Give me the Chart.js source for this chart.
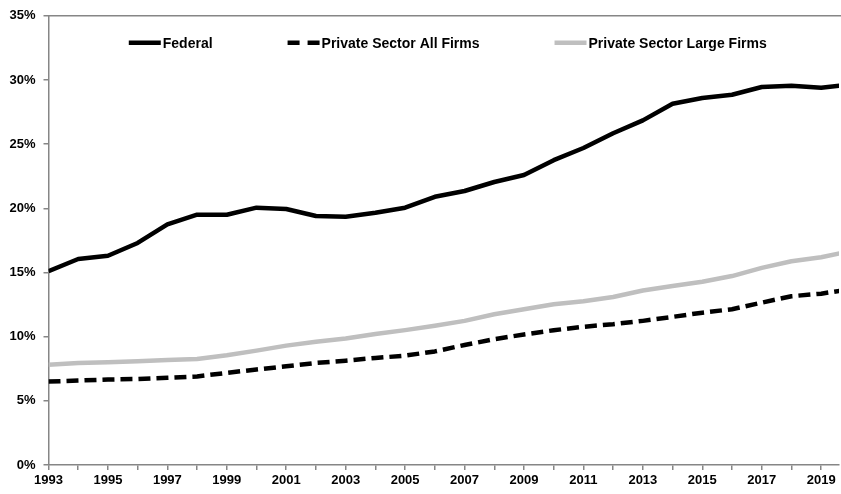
<!DOCTYPE html>
<html>
<head>
<meta charset="utf-8">
<script src="https://cdn.jsdelivr.net/npm/chart.js@4.4.1/dist/chart.umd.min.js"></script>
<style>
html, body { margin: 0; padding: 0; background: #fff; }
#wrap { width: 841px; height: 494px; }
</style>
</head>
<body>
<div id="wrap"><canvas id="chart"></canvas></div>
<script>
// share of workforce, percent
var years = [1993, 1994, 1995, 1996, 1997, 1998, 1999, 2000, 2001, 2002, 2003, 2004, 2005, 2006,
             2007, 2008, 2009, 2010, 2011, 2012, 2013, 2014, 2015, 2016, 2017, 2018, 2019, 2020];
var federal = [15.1, 16.05, 16.3, 17.3, 18.75, 19.5, 19.5, 20.05, 19.95, 19.4, 19.35, 19.65, 20.05, 20.9,
               21.35, 22.05, 22.6, 23.75, 24.7, 25.85, 26.85, 28.15, 28.6, 28.85, 29.45, 29.55, 29.4, 29.65];
var allFirms = [6.5, 6.58, 6.66, 6.7, 6.8, 6.9, 7.18, 7.44, 7.69, 7.95, 8.13, 8.34, 8.52, 8.85,
                9.35, 9.8, 10.17, 10.5, 10.77, 10.97, 11.23, 11.54, 11.87, 12.14, 12.65, 13.15, 13.35, 13.7];
var largeFirms = [7.82, 7.95, 8.0, 8.08, 8.19, 8.26, 8.55, 8.91, 9.3, 9.61, 9.86, 10.2, 10.51, 10.85,
                  11.23, 11.75, 12.14, 12.52, 12.76, 13.09, 13.6, 13.94, 14.28, 14.72, 15.36, 15.88, 16.19, 16.68];
var seriesNames = ['Federal', 'Private Sector All Firms', 'Private Sector Large Firms'];
var tickYears = years.slice(0, 27);   // 1993..2019, a mark every year, label every other

var axisColor = '#868686';
var tickFont = { family: "'Liberation Sans', Arial, sans-serif", size: 13, weight: 'bold' };

function points(vals) {
    return years.map(function (yr, i) { return { x: yr, y: vals[i] }; });
}

// legend sits inside the plot, like the original
var inlineLegend = {
    id: 'inlineLegend',
    afterDatasetsDraw: function (chart) {
        var ctx = chart.ctx, area = chart.chartArea;
        var sample = 32, gap = 2, spacing = 75;
        ctx.save();
        ctx.font = "bold 14px 'Liberation Sans', Arial, sans-serif";
        var total = 0;
        chart.data.datasets.forEach(function (ds, i) {
            total += sample + gap + ctx.measureText(ds.label).width + (i ? spacing : 0);
        });
        var x = (area.left + area.right) / 2 + 4 - total / 2;
        var y = area.top + 27;
        chart.data.datasets.forEach(function (ds) {
            ctx.beginPath();
            ctx.lineWidth = ds.borderWidth;
            ctx.strokeStyle = ds.borderColor;
            ctx.setLineDash(ds.borderDash ? [12, 8] : []);
            ctx.lineCap = 'butt';
            ctx.moveTo(x, y);
            ctx.lineTo(x + sample, y);
            ctx.stroke();
            ctx.setLineDash([]);
            ctx.fillStyle = '#000';
            ctx.textBaseline = 'middle';
            ctx.textAlign = 'left';
            ctx.fillText(ds.label, x + sample + gap, y + 1);
            x += sample + gap + ctx.measureText(ds.label).width + spacing;
        });
        ctx.restore();
    }
};

// top edge of the plot frame
var topBorder = {
    id: 'topBorder',
    beforeDatasetsDraw: function (chart) {
        var ctx = chart.ctx, area = chart.chartArea;
        ctx.save();
        ctx.strokeStyle = axisColor;
        ctx.lineWidth = 1.5;
        ctx.beginPath();
        ctx.moveTo(area.left, area.top);
        ctx.lineTo(chart.width, area.top);
        ctx.stroke();
        ctx.restore();
    }
};

var ctx = document.getElementById('chart').getContext('2d');
var myChart = new Chart(ctx, {
    type: 'line',
    data: {
        datasets: [{
            label: seriesNames[0],
            data: points(federal),
            borderColor: '#000000',
            borderWidth: 4.5
        }, {
            label: seriesNames[1],
            data: points(allFirms),
            borderColor: '#000000',
            borderWidth: 4.5,
            borderDash: [12, 6]
        }, {
            label: seriesNames[2],
            data: points(largeFirms),
            borderColor: '#bfbfbf',
            borderWidth: 4.5
        }]
    },
    options: {
        responsive: true,
        maintainAspectRatio: false,
        animation: false,
        layout: { padding: { top: 13, right: 2, left: 0, bottom: 0 } },
        elements: {
            point: { radius: 0 },
            line: { tension: 0, borderJoinStyle: 'round' }
        },
        plugins: {
            legend: { display: false },
            tooltip: { enabled: false }
        },
        scales: {
            x: {
                type: 'linear',
                min: 1993,
                max: 2019.6,
                afterBuildTicks: function (scale) {
                    scale.ticks = tickYears.map(function (v) { return { value: v }; });
                },
                afterFit: function (scale) { scale.height = 29; },
                grid: { drawOnChartArea: false, tickLength: 5, color: axisColor, lineWidth: 1.5 },
                border: { color: axisColor, width: 1.5 },
                ticks: {
                    autoSkip: false,
                    maxRotation: 0,
                    padding: 3,
                    color: '#000',
                    font: tickFont,
                    callback: function (v) { return v % 2 === 1 ? String(v) : ''; }
                }
            },
            y: {
                min: 0,
                max: 35,
                afterFit: function (scale) { scale.width = 48.5; },
                grid: { drawOnChartArea: false, tickLength: 5, color: axisColor, lineWidth: 1.5 },
                border: { color: axisColor, width: 1.5 },
                ticks: {
                    stepSize: 5,
                    padding: 8,
                    color: '#000',
                    font: tickFont,
                    callback: function (v) { return v + '%'; }
                }
            }
        }
    },
    plugins: [inlineLegend, topBorder]
});
</script>
</body>
</html>
